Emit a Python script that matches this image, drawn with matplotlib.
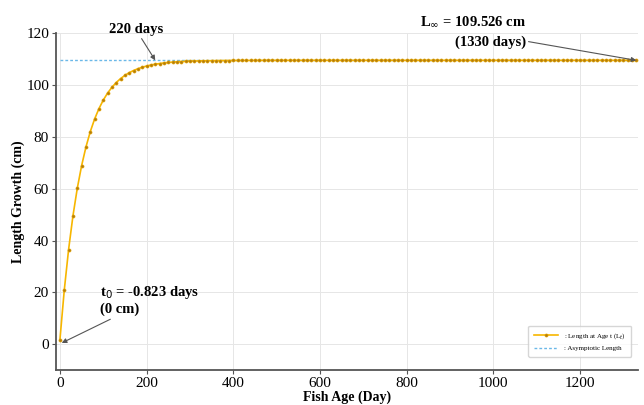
import matplotlib
matplotlib.use('Agg')
import matplotlib.pyplot as plt

# von Bertalanffy growth (one point every 10 days)
ages = list(range(0, 1340, 10))
lengths = [
    1.74, 20.84, 36.55, 49.48, 60.12, 68.87, 76.07, 82.00, 86.88, 90.89,
    94.19, 96.91, 99.14, 100.98, 102.50, 103.74, 104.77, 105.61, 106.30, 106.87,
    107.34, 107.73, 108.05, 108.31, 108.53, 108.70, 108.85, 108.97, 109.07, 109.15,
    109.22, 109.27, 109.32, 109.35, 109.38, 109.41, 109.43, 109.45, 109.46, 109.47,
    109.48, 109.49, 109.50, 109.50, 109.51, 109.51, 109.51, 109.52, 109.52, 109.52,
    109.52, 109.52, 109.52, 109.52, 109.52, 109.52, 109.52, 109.52, 109.52, 109.52,
    109.53, 109.53, 109.53, 109.53, 109.53, 109.53, 109.53, 109.53, 109.53, 109.53,
    109.53, 109.53, 109.53, 109.53, 109.53, 109.53, 109.53, 109.53, 109.53, 109.53,
    109.53, 109.53, 109.53, 109.53, 109.53, 109.53, 109.53, 109.53, 109.53, 109.53,
    109.53, 109.53, 109.53, 109.53, 109.53, 109.53, 109.53, 109.53, 109.53, 109.53,
    109.53, 109.53, 109.53, 109.53, 109.53, 109.53, 109.53, 109.53, 109.53, 109.53,
    109.53, 109.53, 109.53, 109.53, 109.53, 109.53, 109.53, 109.53, 109.53, 109.53,
    109.53, 109.53, 109.53, 109.53, 109.53, 109.53, 109.53, 109.53, 109.53, 109.53,
    109.53, 109.53, 109.53, 109.53,
]
l_inf = 109.526
t0 = -0.823
asym_x = [0, 1330]

plt.rcParams['font.family'] = ['Liberation Serif', 'DejaVu Serif']

fig = plt.figure(figsize=(6.44, 4.05), dpi=100)
ax = fig.add_axes([0.087, 0.086, 0.903, 0.832])

ax.plot(ages, lengths, color='#f7b600', lw=1.2, marker='o', markersize=2.2,
        markerfacecolor='#b07a10', markeredgecolor='#e0a000', markeredgewidth=0.5,
        label=': Length at Age t (L$_t$)', zorder=3)
ax.plot(asym_x, [l_inf, l_inf], color='#6bb8e8', lw=1.0, ls=(0, (2, 1.5)),
        label=': Asymptotic Length', zorder=2)

ax.set_xlim(-9, 1333)
ax.set_ylim(-10, 120)
ax.set_xticks(range(0, 1201, 200))
ax.set_yticks(range(0, 121, 20))
ax.grid(True, color='#e6e6e6', lw=0.7)
ax.set_axisbelow(True)

for s in ['top', 'right']:
    ax.spines[s].set_visible(False)
for s in ['left', 'bottom']:
    ax.spines[s].set_color('#555555')
    ax.spines[s].set_linewidth(1.3)
ax.tick_params(labelsize=11, length=3, color='#555555', pad=2)

ax.set_xlabel('Fish Age (Day)', fontsize=10, fontweight='bold', labelpad=0)
ax.set_ylabel('Length Growth (cm)', fontsize=10, fontweight='bold', labelpad=1)

arrow = dict(arrowstyle='-|>', color='#555555', lw=0.8, mutation_scale=7,
             shrinkA=0, shrinkB=0)
ax.annotate('220 days', xy=(220, l_inf), xytext=(175, 121.5), ha='center', va='center',
            fontsize=10.5, fontweight='bold', arrowprops=arrow, annotation_clip=False)
ax.annotate('L$_\\infty$ = 109.526 cm\n(1330 days)', xy=(1330, l_inf), xytext=(1075, 120.5),
            ha='right', va='center', fontsize=10.5, fontweight='bold', linespacing=1.6,
            arrowprops=arrow, annotation_clip=False)
ax.annotate('t$_0$ = -0.823 days\n(0 cm)', xy=(t0 + 5, 0.5), xytext=(92, 17),
            ha='left', va='center', fontsize=10.5, fontweight='bold', arrowprops=arrow)

ax.legend(loc='lower right', fontsize=5, frameon=True, edgecolor='#cccccc',
          handlelength=3.5, borderpad=0.8, labelspacing=0.6, bbox_to_anchor=(0.995, 0.03))

fig.savefig('out.png', dpi=100)
